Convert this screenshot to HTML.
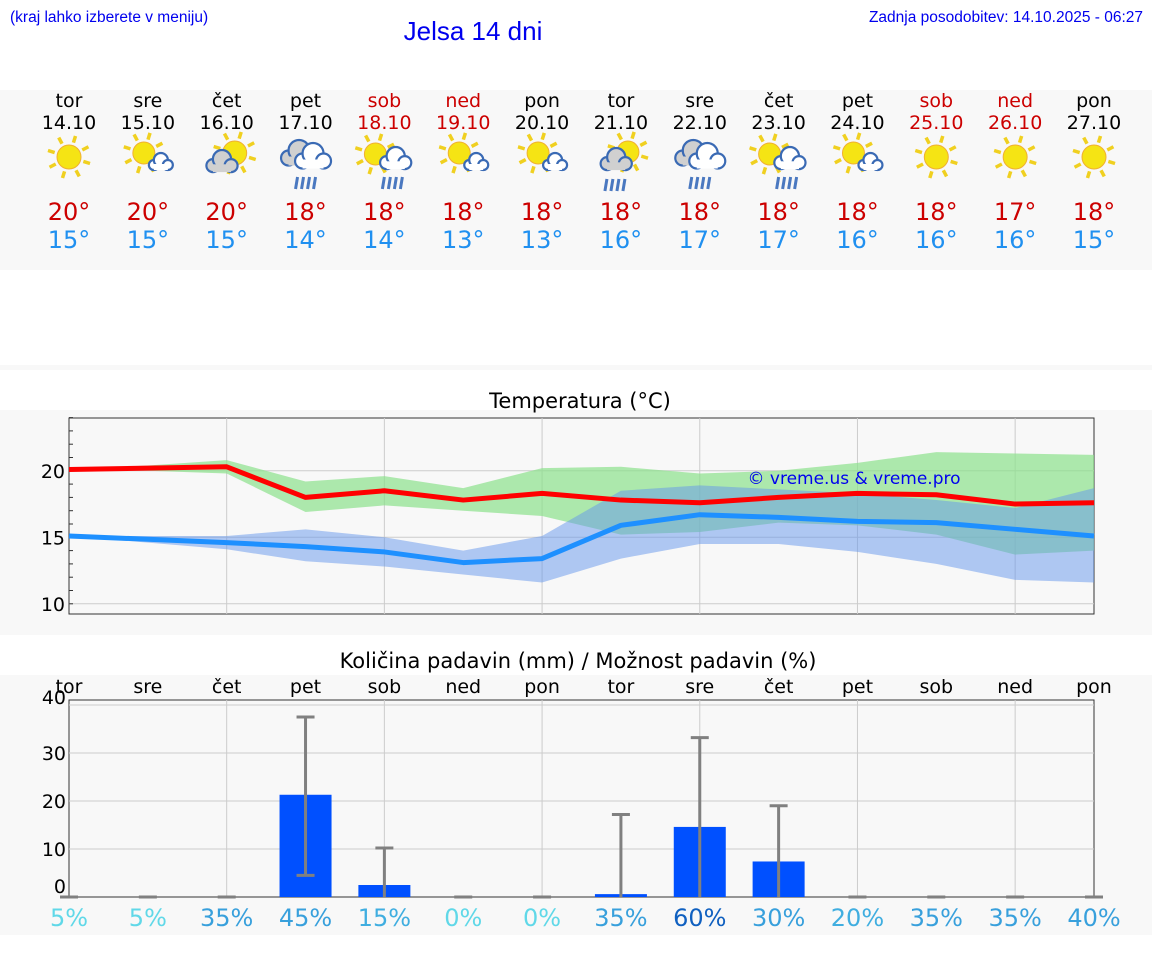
<!DOCTYPE html>
<html><head><meta charset="utf-8">
<style>
body{margin:0;width:1152px;height:975px;background:#fff;font-family:"DejaVu Sans","Liberation Sans",sans-serif;overflow:hidden}
svg{position:absolute;left:0;top:0}
</style></head>
<body>
<svg id="s" width="1152" height="975" xmlns="http://www.w3.org/2000/svg">
<rect x="0" y="90" width="1152" height="180" fill="#f8f8f8"/>
<rect x="0" y="365" width="1152" height="5" fill="#f8f8f8"/>
<rect x="0" y="410" width="1152" height="225" fill="#f8f8f8"/>
<rect x="0" y="675" width="1152" height="260" fill="#f8f8f8"/>
<text x="10" y="22" font-size="15.5" fill="#0000ee" font-family="Liberation Sans, sans-serif">(kraj lahko izberete v meniju)</text>
<text x="473" y="40" font-size="26" fill="#0000ee" text-anchor="middle" font-family="Liberation Sans, sans-serif">Jelsa 14 dni</text>
<text x="1143" y="22" font-size="15.5" fill="#0000ee" text-anchor="end" font-family="Liberation Sans, sans-serif">Zadnja posodobitev: 14.10.2025 - 06:27</text>
<text x="580" y="408" font-size="21" text-anchor="middle">Temperatura (°C)</text>
<text x="578" y="668" font-size="21" text-anchor="middle">Količina padavin (mm) / Možnost padavin (%)</text>
<g id="g"></g>
</svg>
<script>
const days=["tor","sre","čet","pet","sob","ned","pon","tor","sre","čet","pet","sob","ned","pon"];
const dates=["14.10","15.10","16.10","17.10","18.10","19.10","20.10","21.10","22.10","23.10","24.10","25.10","26.10","27.10"];
const weekend=[0,0,0,0,1,1,0,0,0,0,0,1,1,0];
const icons=[0,1,2,3,4,1,1,5,3,4,1,0,0,0];
const hiLabels=[20,20,20,18,18,18,18,18,18,18,18,18,17,18];
const loLabels=[15,15,15,14,14,13,13,16,17,17,16,16,16,15];
const tMax=[20.1,20.2,20.3,18.0,18.5,17.8,18.3,17.8,17.6,18.0,18.3,18.2,17.5,17.6];
const tMaxHi=[20.1,20.4,20.8,19.2,19.6,18.7,20.2,20.3,19.8,20.0,20.6,21.4,21.3,21.2];
const tMaxLo=[20.1,20.0,19.8,16.9,17.4,17.0,16.6,15.2,15.4,16.1,15.9,15.2,13.7,14.0];
const tMin=[15.1,14.85,14.6,14.3,13.9,13.1,13.4,15.9,16.7,16.5,16.2,16.1,15.6,15.1];
const tMinHi=[15.1,15.1,15.1,15.6,15.0,14.0,15.1,18.5,18.9,18.6,18.3,17.8,17.2,18.7];
const tMinLo=[15.1,14.6,14.1,13.2,12.8,12.2,11.6,13.4,14.5,14.5,13.9,13.0,11.8,11.6];
const rain=[0,0,0,21.3,2.5,0,0,0.6,14.6,7.4,0,0,0,0];
const rainLo=[0,0,0,4.5,0,0,0,0,0,0,0,0,0,0];
const rainHi=[0,0,0,37.5,10.2,0,0,17.2,33.2,19.0,0,0,0,0];
const prob=[5,5,35,45,15,0,0,35,60,30,20,35,35,40];
const tTicks=[10,15,20];
const pTicks=[0,10,20,30,40];

const NS="http://www.w3.org/2000/svg";
const G=document.getElementById('g');
function el(tag,attrs,name,parent){const e=document.createElementNS(NS,tag);for(const k in attrs)e.setAttribute(k,attrs[k]);


(parent||G).appendChild(e);return e;}
function txt(x,y,s,size,fill,anchor,name){const t=el('text',{x:x,y:y,'font-size':size,fill:fill,'text-anchor':anchor||'middle'},name);t.textContent=s;return t;}
const X0=69,X1=1094,N=14;
const xp=i=>X0+i*(X1-X0)/(N-1);
const yT=v=>537.3-(v-15)*13.3;
const yP=v=>897-v*4.8;

function sun(cx,cy,r){const g=el('g',{},'sun-icon');
for(let k=0;k<8;k++){const a=k*Math.PI/4+0.3;el('line',{x1:cx+Math.cos(a)*(r+3),y1:cy+Math.sin(a)*(r+3),x2:cx+Math.cos(a)*(r+10),y2:cy+Math.sin(a)*(r+10),stroke:'#f0d020','stroke-width':3.5},'sun-ray',g);}
el('circle',{cx:cx,cy:cy,r:r,fill:'#f5e414',stroke:'#f0b030','stroke-width':1},'sun-disc',g);}
function cloud(cx,cy,s,fill){const g=el('g',{fill:fill,stroke:'#3a6ab4','stroke-width':2.2},'cloud-icon');
el('circle',{cx:cx-6*s,cy:cy+2*s,r:5*s},'cloud-part',g);el('circle',{cx:cx+1*s,cy:cy-3*s,r:7*s},'cloud-part',g);el('circle',{cx:cx+8*s,cy:cy+2*s,r:5*s},'cloud-part',g);
el('rect',{x:cx-6*s,y:cy+1*s,width:14*s,height:6*s,stroke:'none'},'cloud-part',g);}
function drops(cx,cy){for(let k=0;k<4;k++)el('line',{x1:cx-8+k*6,y1:cy,x2:cx-10+k*6,y2:cy+12,stroke:'#4a78c0','stroke-width':3},'rain-drop');}
for(let i=0;i<N;i++){const x=xp(i);const red=weekend[i]?'#cc0000':'#000';
txt(x,107,days[i],19,red,'middle','day-name');
txt(x,129,dates[i],19,red,'middle','day-date');
const t=icons[i],cy=157;
if(t===0)sun(x,cy,12);
if(t===1){sun(x-4,cy-4,11);cloud(x+12,cy+6,1.0,'#fff');}
if(t===2){sun(x+8,cy-4,12);cloud(x-6,cy+6,1.3,'#d0d0d0');}
if(t===3){cloud(x-8,cy-2,1.5,'#d0d0d0');cloud(x+6,cy+1,1.5,'#fff');drops(x,cy+20);}
if(t===4){sun(x-9,cy-3,11);cloud(x+10,cy+3,1.3,'#fff');drops(x+8,cy+20);}
if(t===5){sun(x+7,cy-5,11);cloud(x-6,cy+4,1.3,'#d0d0d0');drops(x-6,cy+22);}
txt(x,220,hiLabels[i]+'°',24,'#cc0000','middle','max-temp');
txt(x,248,loLabels[i]+'°',24,'#2090f0','middle','min-temp');}

el('rect',{x:X0,y:418,width:X1-X0,height:196,fill:'#f8f8f8',stroke:'#333','stroke-width':1},'temp-plot-area');
for(let i=2;i<N-1;i+=2)el('line',{x1:xp(i),y1:418,x2:xp(i),y2:614,stroke:'#ccc'},'temp-vgrid');
tTicks.forEach(v=>{el('line',{x1:X0,y1:yT(v),x2:X1,y2:yT(v),stroke:'#ccc'},'temp-hgrid');txt(X0-4,yT(v)+7,v,19,'#000','end','temp-tick-label');});
for(let v=10;v<=24;v++)el('line',{x1:X0,y1:yT(v),x2:X0+4,y2:yT(v),stroke:'#333'},'temp-minor-tick');
function band(hi,lo,fill,name){let d='';hi.forEach((v,i)=>d+=(i?'L':'M')+xp(i)+','+yT(v));for(let i=N-1;i>=0;i--)d+='L'+xp(i)+','+yT(lo[i]);el('path',{d:d+'Z',fill:fill},name);}
band(tMaxHi,tMaxLo,'rgba(140,225,140,0.7)','max-temp-range');
band(tMinHi,tMinLo,'rgba(100,150,235,0.5)','min-temp-range');
function line(a,c,name){el('polyline',{points:a.map((v,i)=>xp(i)+','+yT(v)).join(' '),fill:'none',stroke:c,'stroke-width':5,'stroke-linejoin':'round'},name);}
line(tMax,'#ff0000','max-temp-line');line(tMin,'#1e90ff','min-temp-line');
txt(854,484,'© vreme.us & vreme.pro',17,'#0000ee','middle','watermark');

el('rect',{x:X0,y:700,width:X1-X0,height:197,fill:'#f8f8f8',stroke:'#333','stroke-width':1},'precip-plot-area');
for(let i=2;i<N-1;i+=2)el('line',{x1:xp(i),y1:700,x2:xp(i),y2:897,stroke:'#ccc'},'precip-vgrid');
pTicks.forEach(v=>{if(v>0)el('line',{x1:X0,y1:yP(v),x2:X1,y2:yP(v),stroke:'#ccc'},'precip-hgrid');txt(X0-3,yP(v)+(v===0?-4:(v===40?-1:7)),v,19,'#000','end','precip-tick-label');});
for(let i=0;i<N;i++){const x=xp(i);txt(x,693,days[i],19,'#000','middle','precip-day-label');
if(rain[i]>0)el('rect',{x:x-26,y:yP(rain[i]),width:52,height:yP(0)-yP(rain[i]),fill:'#0050ff'},'precip-bar');
el('line',{x1:x,y1:yP(rainLo[i]),x2:x,y2:yP(rainHi[i]),stroke:'#808080','stroke-width':3},'precip-errorbar');
el('line',{x1:x-9,y1:yP(rainHi[i]),x2:x+9,y2:yP(rainHi[i]),stroke:'#808080','stroke-width':3},'precip-errorcap');
if(rainLo[i]>0)el('line',{x1:x-9,y1:yP(rainLo[i]),x2:x+9,y2:yP(rainLo[i]),stroke:'#808080','stroke-width':3},'precip-errorcap');
const p=prob[i];const c=p>=50?'#1060c0':p>=30?'#38a0dc':p>=15?'#40aee0':'#60d8e8';
txt(x,926,p+'%',24,c,'middle','precip-probability');}
</script>
</body></html>
